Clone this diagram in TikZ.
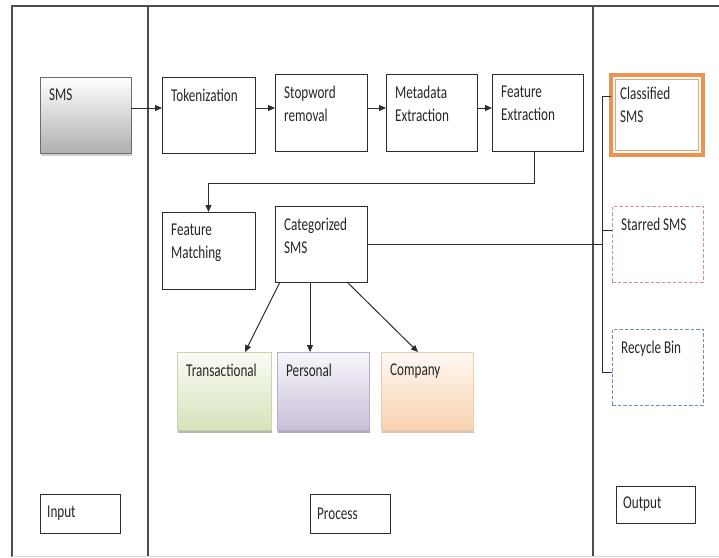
\documentclass[tikz,border=0pt]{standalone}
\usepackage{fontspec}
\setmainfont{Carlito}[FakeStretch=0.73]
\usetikzlibrary{arrows.meta,shadows,calc}
\definecolor{ln}{RGB}{45,45,45}
\definecolor{cOr}{RGB}{234,148,82}
\definecolor{cStar}{RGB}{205,145,155}
\definecolor{cRec}{RGB}{110,140,190}
\definecolor{gTop}{RGB}{250,252,246}
\definecolor{gBot}{RGB}{213,227,187}
\definecolor{gBd}{RGB}{200,214,172}
\definecolor{pTop}{RGB}{248,246,250}
\definecolor{pBot}{RGB}{202,191,217}
\definecolor{pBd}{RGB}{185,174,205}
\definecolor{oTop}{RGB}{254,248,243}
\definecolor{oBot}{RGB}{250,210,176}
\definecolor{oBd}{RGB}{238,205,175}
\begin{document}
\begin{tikzpicture}[x=1pt,y=-1pt,
  every node/.style={font=\fontsize{18}{23}\selectfont, text=black!85},
  bx/.style={draw=ln, line width=1pt, inner sep=0pt, outer sep=0pt, anchor=north west},
  lbl/.style={anchor=north west, inner xsep=9pt, inner ysep=12pt, align=left},
  mlbl/.style={anchor=west, inner xsep=7pt, inner ysep=0pt},
  arr/.style={draw=ln, line width=1pt, -{Triangle[length=7pt,width=6pt]}},
  wire/.style={draw=ln, line width=1pt},
  frame/.style={draw=ln!85, line width=1.2pt},
  shd/.style={drop shadow={shadow xshift=0.5pt, shadow yshift=-2.5pt, fill=#1, opacity=0.6}},
]
\useasboundingbox (0,0) rectangle (719,557);
% frame
\draw[frame] (12,557) -- (12,6) -- (719,6);
\draw[frame] (148,6) -- (148,557);
\draw[frame] (593,6) -- (593,557);
\draw[draw=gray!35, line width=1pt] (12,556) -- (719,556);

% input
\node[bx, draw=gray!85!black, shd=gray!60, top color=white, middle color=gray!22, bottom color=gray!62,
  minimum width=91pt, minimum height=76pt, label={[lbl]north west:SMS}] (sms) at (40,77) {};

% process
\node[bx, minimum width=93pt, minimum height=76pt, label={[lbl]north west:Tokenization}] (tok) at (162,77) {};
\node[bx, minimum width=92pt, minimum height=77pt, label={[lbl]north west:{Stopword\\removal}}] (stop) at (275,74) {};
\node[bx, minimum width=91pt, minimum height=77pt, label={[lbl]north west:{Metadata\\Extraction}}] (meta) at (386,74) {};
\node[bx, minimum width=91pt, minimum height=77pt, label={[lbl]north west:{Feature\\Extraction}}] (feat) at (492,74) {};
\node[bx, minimum width=93pt, minimum height=77pt, label={[lbl]north west:{Feature\\Matching}}] (match) at (162,212) {};
\node[bx, minimum width=92pt, minimum height=76pt, label={[lbl]north west:{Categorized\\SMS}}] (cat) at (275,206) {};

\node[bx, draw=gBd, line width=0.8pt, shd=gBot!60!black, top color=gTop, bottom color=gBot,
  minimum width=94pt, minimum height=78pt, label={[lbl]north west:Transactional}] (trans) at (177,352) {};
\node[bx, draw=pBd, line width=0.8pt, shd=pBot!60!black, top color=pTop, bottom color=pBot,
  minimum width=92pt, minimum height=78pt, label={[lbl]north west:Personal}] (pers) at (277,352) {};
\node[bx, draw=oBd, line width=0.8pt, shd=oBot!75!black, top color=oTop, bottom color=oBot,
  minimum width=92pt, minimum height=78pt, label={[lbl]north west:Company}] (comp) at (381,352) {};

% output
\node[bx, draw=cOr, line width=4.5pt, minimum width=92pt, minimum height=80pt,
  label={[lbl]north west:{Classified\\SMS}}] (cls) at (611,75) {};
\draw[draw=cOr!85, line width=1.1pt] ([shift={(4.2,4.2)}]cls.north west) rectangle ([shift={(-4.2,-4.2)}]cls.south east);
\node[bx, draw=cStar, dashed, dash pattern=on 3.5pt off 2pt, line width=0.9pt, minimum width=91pt, minimum height=76pt,
  label={[lbl]north west:Starred SMS}] (star) at (612,206) {};
\node[bx, draw=cRec, dashed, dash pattern=on 3.5pt off 2pt, line width=0.9pt, minimum width=91pt, minimum height=76pt,
  label={[lbl]north west:Recycle Bin}] (rec) at (612,329) {};

% section labels
\node[bx, minimum width=80pt, minimum height=39pt, label={[mlbl]west:Input}] (inp) at (40,494) {};
\node[bx, minimum width=80pt, minimum height=39pt, label={[mlbl]west:Process}] (proc) at (310,494) {};
\node[bx, minimum width=79pt, minimum height=37pt, label={[mlbl]west:Output}] (outp) at (616,486) {};

% connectors
\coordinate (a1) at ([yshift=7pt]sms.east);
\draw[arr] (a1) -- (a1 -| tok.west);
\coordinate (a2) at ([yshift=7pt]tok.east);
\draw[arr] (a2) -- (a2 -| stop.west);
\coordinate (a3) at ([yshift=4.5pt]stop.east);
\draw[arr] (a3) -- (a3 -| meta.west);
\coordinate (a4) at ([yshift=4.5pt]meta.east);
\draw[arr] (a4) -- (a4 -| feat.west);
\draw[arr] ([xshift=-3pt]feat.south) -- ++(0,32) -| (match.north);

\coordinate (bus) at (602,244);
\draw[wire] (cat.east) -- (cat.east -| bus);
\coordinate (c1) at ([yshift=19pt]cls.west);
\draw[wire] (c1) -| (bus) |- ([yshift=-5pt]rec.west);
\coordinate (c2) at ([yshift=14pt]star.west);
\draw[wire] (c2) -- (c2 -| bus);

\draw[arr] ([xshift=5pt]cat.south west) -- ([xshift=21pt]trans.north);
\coordinate (p1) at ([xshift=-11pt]cat.south);
\draw[arr] (p1) -- (p1 |- pers.north);
\draw[arr] ([xshift=26pt]cat.south) -- ([xshift=-9pt]comp.north);
\end{tikzpicture}
\end{document}
